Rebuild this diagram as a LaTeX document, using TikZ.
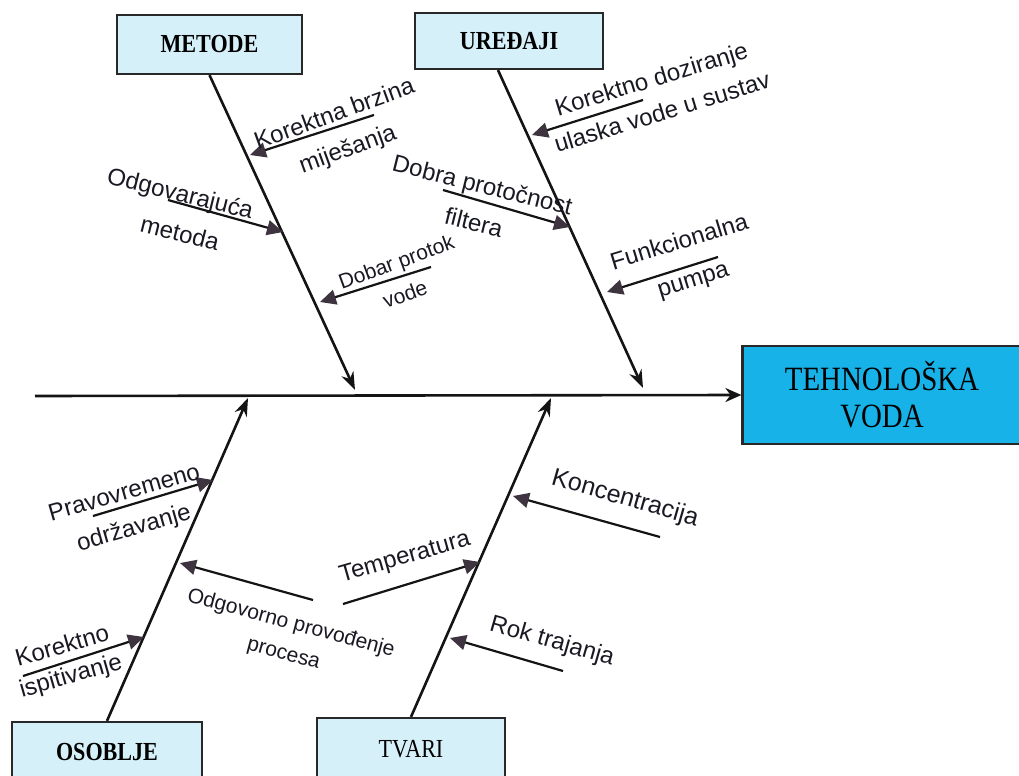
\documentclass[tikz,border=0pt]{standalone}
\usepackage{fontspec}
\setmainfont{Liberation Sans}
\newfontfamily\boxfont[FakeStretch=0.85]{Liberation Serif}
\usetikzlibrary{arrows.meta}

\definecolor{catfill}{RGB}{214,240,249}
\definecolor{effectfill}{RGB}{22,178,232}
\definecolor{boxline}{RGB}{40,40,40}
\definecolor{bonecol}{RGB}{20,20,20}
\definecolor{tipcol}{RGB}{62,52,64}
\definecolor{labelcol}{RGB}{25,25,35}

\begin{document}
\begin{tikzpicture}[x=0.5pt,y=-0.5pt,
        catbox/.style={draw=boxline, fill=catfill, line width=1.1pt, inner sep=0pt,
            font=\boxfont\fontsize{13}{15}\selectfont},
        effectbox/.style={draw=boxline, fill=effectfill, line width=1.1pt, inner sep=0pt,
            align=center, font=\boxfont\fontsize{17}{18.5}\selectfont},
        bone/.style={draw=bonecol, line width=1.3pt, -{Stealth[length=9pt,width=6.5pt]}},
        twig/.style={draw=bonecol, line width=1.1pt,
            -{Triangle[length=8pt,width=7.5pt,color=tipcol]}},
        cause/.style={font=\fontsize{12}{14}\selectfont, text=labelcol, inner sep=0pt},
        smallcause/.style={cause, font=\fontsize{10.5}{12}\selectfont}]
    \useasboundingbox (0,0) rectangle (1019,776);

    % effect and spine
    \node[effectbox, minimum width=139.5pt, minimum height=49pt] (voda) at (882,395)
        {TEHNOLOŠKA\\VODA};
    \coordinate (tail) at (35,396);
    \draw[bone, -{Stealth[length=8pt,width=7pt]}] (tail) -- (voda.west);

    % categories
    \node[catbox, minimum width=92.5pt, minimum height=29.5pt] (metode) at (209.5,44.5) {\bfseries METODE};
    \node[catbox, minimum width=94pt, minimum height=28pt] (uredjaji) at (509,41) {\bfseries UREĐAJI};
    \node[catbox, minimum width=95pt, minimum height=30pt] (osoblje) at (107,752) {\bfseries OSOBLJE};
    \node[catbox, minimum width=94pt, minimum height=31pt] (tvari) at (411,749) {TVARI};

    % main bones
    \coordinate (mtip) at (355,390);
    \coordinate (utip) at (643,388);
    \coordinate (otip) at (248,398);
    \coordinate (ttip) at (551,398);
    \draw[bone] (metode.south) -- (mtip);
    \draw[bone] ([xshift=-5.5pt]uredjaji.south) -- (utip);
    \draw[bone] (osoblje.north) -- (otip);
    \draw[bone] (tvari.north) -- (ttip);

    % METODE causes
    \coordinate (kb) at (374,115);   \coordinate (kbtip) at (250,155);
    \coordinate (om) at (168,200);   \coordinate (omtip) at (283,232);
    \coordinate (dp) at (431,267);   \coordinate (dptip) at (320,302);
    \draw[twig] (kb) -- (kbtip);
    \draw[twig] (om) -- (omtip);
    \draw[twig] (dp) -- (dptip);
    \node[cause, rotate=20] (kb1) at (334,113) {Korektna brzina};
    \node[cause, rotate=20] (kb2) at (348,150) {miješanja};
    \node[cause, rotate=-14] (om1) at (180,195) {Odgovarajuća};
    \node[cause, rotate=-14] (om2) at (180,233) {metoda};
    \node[smallcause, rotate=20] (dp1) at (397,264) {Dobar protok};
    \node[smallcause, rotate=20] (dp2) at (405,294) {vode};

    % UREDJAJI causes
    \coordinate (kd) at (643,100);   \coordinate (kdtip) at (532,135);
    \coordinate (pf) at (443,190);   \coordinate (pftip) at (570,227);
    \coordinate (fp) at (718,257);   \coordinate (fptip) at (607,292);
    \draw[twig] (kd) -- (kdtip);
    \draw[twig] (pf) -- (pftip);
    \draw[twig] (fp) -- (fptip);
    \node[cause, rotate=17] (kd1) at (652,81) {Korektno doziranje};
    \node[cause, rotate=17] (kd2) at (662,112) {ulaska vode u sustav};
    \node[cause, rotate=-14] (pf1) at (482,187) {Dobra protočnost};
    \node[cause, rotate=-14] (pf2) at (474,222) {filtera};
    \node[cause, rotate=17] (fp1) at (679,241) {Funkcionalna};
    \node[cause, rotate=17] (fp2) at (694,283) {pumpa};

    % OSOBLJE causes
    \coordinate (po) at (93,516);    \coordinate (potip) at (213,480);
    \coordinate (op) at (313,600);   \coordinate (optip) at (180,563);
    \coordinate (ki) at (23,676);    \coordinate (kitip) at (144,637);
    \draw[twig] (po) -- (potip);
    \draw[twig] (op) -- (optip);
    \draw[twig] (ki) -- (kitip);
    \node[cause, rotate=16] (po1) at (124,492) {Pravovremeno};
    \node[cause, rotate=16] (po2) at (134,529) {održavanje};
    \node[smallcause, rotate=-15] (op1) at (291,624) {Odgovorno provođenje};
    \node[smallcause, rotate=-15] (op2) at (283,656) {procesa};
    \node[cause, rotate=16] (ki1) at (62,645) {Korektno};
    \node[cause, rotate=16] (ki2) at (71,677) {ispitivanje};

    % TVARI causes
    \coordinate (kon) at (660,537);  \coordinate (kontip) at (513,496);
    \coordinate (tem) at (343,604);  \coordinate (temtip) at (480,562);
    \coordinate (rok) at (563,671);  \coordinate (roktip) at (450,638);
    \draw[twig] (kon) -- (kontip);
    \draw[twig] (tem) -- (temtip);
    \draw[twig] (rok) -- (roktip);
    \node[cause, rotate=-16, font=\fontsize{12.5}{14}\selectfont] (kon1) at (625,499) {Koncentracija};
    \node[cause, rotate=16] (tem1) at (405,558) {Temperatura};
    \node[cause, rotate=-16] (rok1) at (552,642) {Rok trajanja};
\end{tikzpicture}
\end{document}
